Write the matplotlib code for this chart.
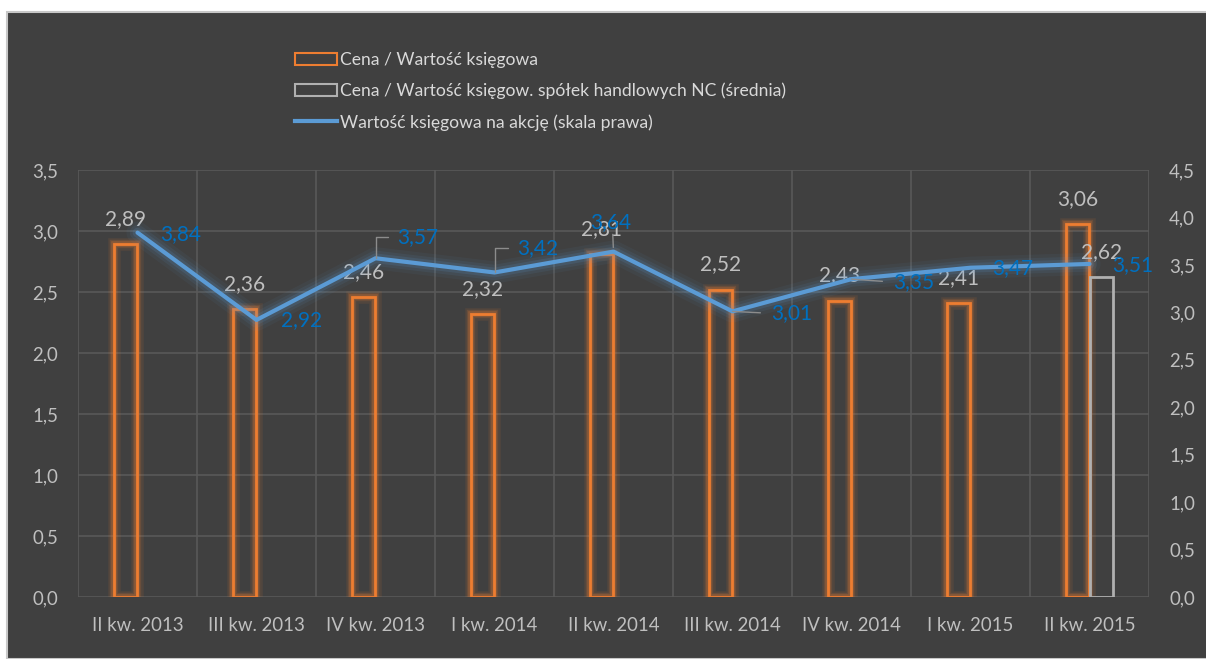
import matplotlib
matplotlib.use("Agg")
import matplotlib.pyplot as plt
from matplotlib.patches import Rectangle, Patch
from matplotlib.lines import Line2D
import numpy as np

categories = ["II kw. 2013", "III kw. 2013", "IV kw. 2013", "I kw. 2014", "II kw. 2014",
              "III kw. 2014", "IV kw. 2014", "I kw. 2015", "II kw. 2015"]
pbv = [2.89, 2.36, 2.46, 2.32, 2.81, 2.52, 2.43, 2.41, 3.06]
pbv_nc = [None, None, None, None, None, None, None, None, 2.62]
bvps = [3.84, 2.92, 3.57, 3.42, 3.64, 3.01, 3.35, 3.47, 3.51]

series_names = ["Cena / Wartość księgowa",
                "Cena / Wartość księgow. spółek handlowych NC (średnia)",
                "Wartość księgowa na akcję (skala prawa)"]

# layout of line labels: (dx px, dy px up, ha, leader style)
line_label_layout = [
    (23, -1, "left", None),
    (24, 0, "left", None),
    (22, 21, "left", "angle"),
    (23, 24, "left", "angle"),
    (-3, 30, "center", "up"),
    (39, -2, "left", "straight"),
    (42, -3, "left", "straight"),
    (22, 0, "left", None),
    (23, -1, "left", None),
]

BG = "#404040"
GRID = "#595959"
TXT = "#bfbfbf"
LEG_TXT = "#d9d9d9"
ORANGE = "#ed7d31"
GRAYBAR = "#b0b0b0"
BLUE = "#5b9bd5"
BLUE_TXT = "#0070c0"
FONT = "Lato"
FS_TICK = 13.4
FS_LEG = 12.6
FS_LAB = 15.0

plt.rcParams["font.family"] = [FONT, "DejaVu Sans"]

W, H = 1206, 659
fig = plt.figure(figsize=(W / 100, H / 100), dpi=100, facecolor="white")
bgrect = Rectangle((7 / W, 0), 1, 1 - 12 / H, transform=fig.transFigure,
                   facecolor=BG, edgecolor="#c8c8c8", linewidth=1.5, zorder=-10)
fig.patches.append(bgrect)

left, right, top, bottom = 78, 1149, 170, 597
ax = fig.add_axes([left / W, 1 - bottom / H, (right - left) / W, (bottom - top) / H])
ax.set_facecolor("none")
ax2 = ax.twinx()

x = np.arange(len(categories))
bw = 0.195
off = 0.098

def px(v):
    return v * 0.72

# orange bars with glow
for lw, a in [(9, 0.10), (6, 0.16), (4, 0.25)]:
    ax.bar(x - off, pbv, width=bw, facecolor="none", edgecolor=ORANGE, linewidth=lw, alpha=a, zorder=2)
ax.bar(x - off, pbv, width=bw, facecolor="none", edgecolor=ORANGE, linewidth=2.0, zorder=3)

nc_idx = [i for i, v in enumerate(pbv_nc) if v is not None]
nc_vals = [pbv_nc[i] for i in nc_idx]
ax.bar(x[nc_idx] + off, nc_vals, width=bw, facecolor="none", edgecolor=GRAYBAR, linewidth=2.0, zorder=3)

def fmt(v):
    return f"{v:.2f}".replace(".", ",")

for xi, v in zip(x - off, pbv):
    ax.annotate(fmt(v), (xi, v), xytext=(0, px(25)), textcoords="offset points",
                ha="center", va="center", color=TXT, fontsize=FS_LAB, zorder=5)
for i, v in zip(nc_idx, nc_vals):
    ax.annotate(fmt(v), (x[i] + off, v), xytext=(0, px(25)), textcoords="offset points",
                ha="center", va="center", color=TXT, fontsize=FS_LAB, zorder=5)

ax.set_xlim(-0.5, len(categories) - 0.5)
ax.set_ylim(0, 3.5)
ax.set_yticks(np.arange(0, 3.51, 0.5))
ax.set_yticklabels([f"{t:.1f}".replace(".", ",") for t in np.arange(0, 3.51, 0.5)])
ax.set_xticks(x)
ax.set_xticklabels(categories)
ax.set_xticks(np.arange(-0.5, len(categories), 1), minor=True)
ax.grid(axis="y", color=GRID, linewidth=1.2, zorder=0)
ax.grid(axis="x", which="minor", color=GRID, linewidth=1.2, zorder=0)
ax.grid(axis="x", which="major", visible=False)
ax.set_axisbelow(True)
ax.tick_params(axis="both", which="both", length=0, colors=TXT, labelsize=FS_TICK)
ax.tick_params(axis="y", pad=px(20))
ax.tick_params(axis="x", pad=px(20))
for s in ax.spines.values():
    s.set_visible(False)

# line with glow
for lw, a in [(16, 0.06), (11, 0.09), (7, 0.14)]:
    ax2.plot(x, bvps, color=BLUE, linewidth=lw, alpha=a, solid_capstyle="round", zorder=2)
ax2.plot(x, bvps, color=BLUE, linewidth=3.0, solid_capstyle="round", zorder=3)
ax2.set_ylim(0, 4.5)
ax2.set_yticks(np.arange(0, 4.51, 0.5))
ax2.set_yticklabels([f"{t:.1f}".replace(".", ",") for t in np.arange(0, 4.51, 0.5)])
ax2.tick_params(axis="y", length=0, colors=TXT, labelsize=FS_TICK, pad=px(20))
for s in ax2.spines.values():
    s.set_visible(False)

for xi, v, (dx, dy, ha, leader) in zip(x, bvps, line_label_layout):
    kw = {}
    if leader == "angle":
        kw["arrowprops"] = dict(arrowstyle="-", color="#8c8c8c", lw=1, shrinkA=5, shrinkB=0,
                                relpos=(0, 0.5), connectionstyle="angle,angleA=0,angleB=90,rad=0")
    elif leader == "straight":
        kw["arrowprops"] = dict(arrowstyle="-", color="#8c8c8c", lw=1, shrinkA=6, shrinkB=0,
                                relpos=(0, 0.5))
    elif leader == "up":
        kw["arrowprops"] = dict(arrowstyle="-", color="#8c8c8c", lw=1, shrinkA=0, shrinkB=3,
                                relpos=(0.55, 0.1))
    ax2.annotate(fmt(v), (xi, v), xytext=(px(dx), px(dy)), textcoords="offset points",
                 ha=ha, va="center", color=BLUE_TXT, fontsize=FS_LAB, zorder=6, **kw)

handles = [Patch(facecolor="none", edgecolor=ORANGE, linewidth=1.5),
           Patch(facecolor="none", edgecolor=GRAYBAR, linewidth=1.5),
           Line2D([0], [0], color=BLUE, linewidth=3)]
leg = fig.legend(handles, series_names, loc="upper left",
                 bbox_to_anchor=(295 / W, 1 - 52 / H), frameon=False,
                 borderaxespad=0, borderpad=0, fontsize=FS_LEG, handlelength=2.4,
                 handletextpad=0.2, labelspacing=0.84)
for t in leg.get_texts():
    t.set_color(LEG_TXT)

fig.savefig("out.png", dpi=100, facecolor="white")
